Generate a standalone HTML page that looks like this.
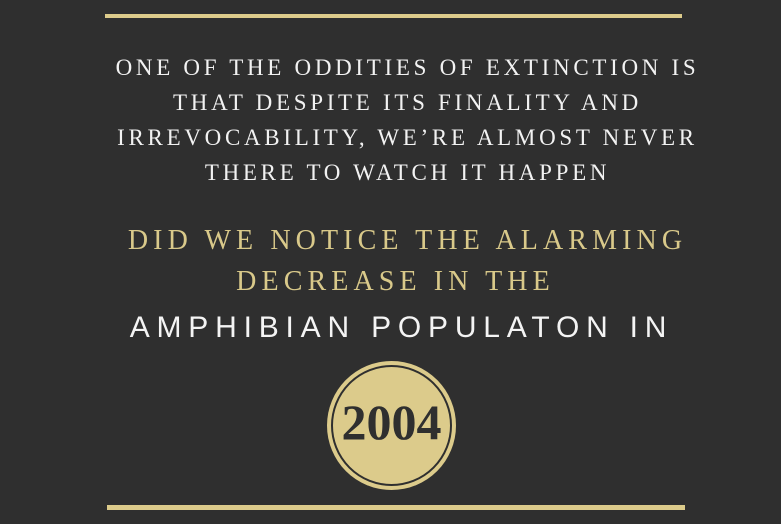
<!DOCTYPE html>
<html><head><meta charset="utf-8"><style>
html,body{margin:0;padding:0}
body{width:781px;height:524px;background:#2f2f2f;position:relative;overflow:hidden}
.t{position:absolute;left:0;width:781px;text-align:center;white-space:nowrap}
.w{font-family:"Liberation Sans",serif;font-family:"Liberation Serif",serif;color:#f2f2f2;font-size:23px;letter-spacing:3.7px;line-height:35px}
.g{font-family:"Liberation Serif",serif;color:#d9c98a;font-size:28px;letter-spacing:5.1px;line-height:41px}
.s{font-family:"Liberation Sans",sans-serif;color:#f4f4f4;font-size:30px;letter-spacing:6.8px}
.line{position:absolute;height:4px;background:#dccb8b}
</style></head><body>
<div class="line" style="left:105px;top:14px;width:577px"></div>
<div class="t w" style="top:50px;left:17px">ONE OF THE ODDITIES OF EXTINCTION IS<br>THAT DESPITE ITS FINALITY AND<br>IRREVOCABILITY, WE’RE ALMOST NEVER<br>THERE TO WATCH IT HAPPEN</div>
<div class="t g" style="top:220px;left:17px">DID WE NOTICE THE ALARMING</div>
<div class="t g" style="top:261px;left:5px">DECREASE IN THE</div>
<div class="t s" style="top:311px;left:11px">AMPHIBIAN POPULATON IN</div>
<div style="position:absolute;left:327px;top:361px;width:129px;height:129px;border-radius:50%;background:#dccb8b">
<div style="position:absolute;left:4px;top:4px;right:4px;bottom:4px;border:2px solid #2f2f2f;border-radius:50%"></div>
<div style="position:absolute;left:0;width:129px;top:34px;text-align:center;font-family:'Liberation Serif',serif;font-weight:bold;font-size:50px;color:#2f2f2f;line-height:54px">2004</div>
</div>
<div class="line" style="left:107px;top:505px;width:578px;height:5px"></div>
</body></html>
